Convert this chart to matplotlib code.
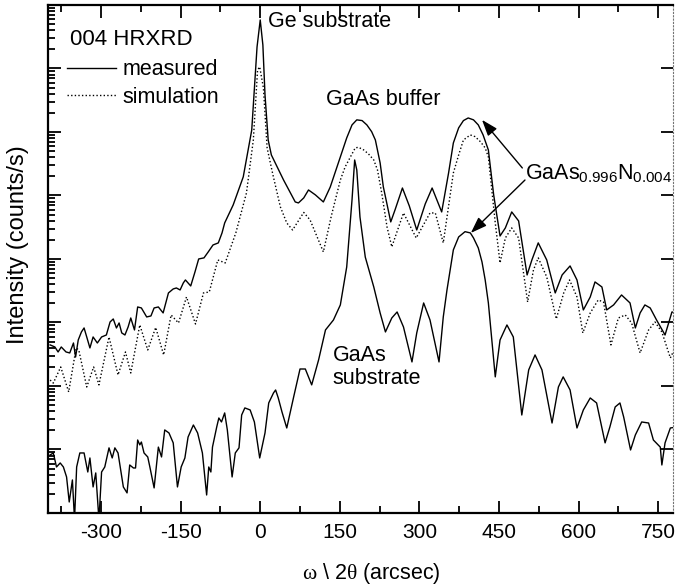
import numpy as np
import matplotlib
matplotlib.use("Agg")
import matplotlib.pyplot as plt
from matplotlib.ticker import LogLocator, MultipleLocator, NullFormatter

plt.rcParams['font.family'] = ['Liberation Sans', 'DejaVu Sans']
plt.rcParams['mathtext.fontset'] = 'custom'
plt.rcParams['mathtext.rm'] = 'Liberation Serif'
plt.rcParams['mathtext.default'] = 'regular'
plt.rcParams['axes.unicode_minus'] = False

# --- measured curve on Ge substrate (arcsec, counts/s) ---
meas_x = [-396, -387, -381, -375, -366, -359, -352, -348, -343, -337, -332,
          -327, -321, -315, -307, -299, -290, -283, -277, -271, -266, -261,
          -255, -249, -244, -237, -231, -224, -214, -206, -200, -192, -183,
          -173, -164, -158, -151, -145, -141, -131, -123, -116, -106, -98,
          -89, -79, -72, -67, -51, -32, -16, -6, 0, 5, 9, 15, 21, 44, 66, 72,
          82, 91, 104, 119, 132, 151, 163, 173, 182, 192, 201, 210, 217, 226,
          232, 246, 254, 268,
          281, 295, 311, 324, 342, 355, 364, 374, 383, 392, 402, 411, 420, 430,
          440, 452, 462,
          474, 487, 503, 512, 524, 540, 556, 569, 584, 597, 609, 622, 631,
          644, 653, 666, 681, 697, 707, 716, 725, 735, 747, 763, 776, 786]
meas_y = [443, 411, 343, 411, 343, 331, 475, 286, 530, 709, 819,
          591, 397, 591, 475, 591, 635, 1018, 1135, 819, 982, 684,
          635, 849, 1177, 762, 1754, 1692, 1221, 1266, 1692, 1754, 1412,
          2915, 3371, 3493, 3250, 4188, 4670, 3757, 6240, 1.0e4, 1.04e4, 1.29e4,
          1.66e4, 1.79e4, 2.57e4, 3.69e4, 7.08e4, 1.96e5, 1.07e6, 2.18e7, 5.8e7,
          2.34e7, 3.83e6, 7.48e5, 4.34e5, 1.75e5, 7.9e4, 7.62e4,
          9.14e4, 1.22e5, 1.02e5, 7.9e4, 1.36e5, 4.04e5, 8.05e5, 1.29e6, 1.55e6,
          1.51e6, 1.29e6, 1.01e6, 7.48e5, 3.25e5,
          1.37e5, 3.83e4, 5.9e4, 1.31e5,
          6.83e4, 2.86e4, 7.35e4, 1.31e5, 5.5e4, 2.26e5, 6.71e5, 1.16e6, 1.51e6,
          1.66e6, 1.55e6, 1.29e6, 9.0e5, 5.2e5,
          1.02e5, 2.3e4, 3.08e4,
          5.5e4, 3.97e4, 5600, 9640, 1.79e4, 9640, 2915, 5600, 7760, 4670, 1574,
          2520, 4345,
          3623, 1574, 1888, 2710, 2028, 819, 1412, 1888, 1692, 1094, 635, 1463,
          1412]

# --- simulated curve ---
sim_x = [-396, -390, -376, -361, -347, -342, -327, -314, -304, -285, -268,
         -254, -244, -227, -212, -197, -182, -168, -154, -139, -122, -107,
         -96, -80, -66, -46, -26, -13, -5, -1, 6, 13, 24, 38, 50, 61, 82, 94,
         119, 134, 151, 160, 170, 179, 185, 195, 204, 214, 221, 229, 239, 248,
         270, 294, 320, 330,
         345, 364, 374, 383, 396, 405, 415, 424, 430, 443, 452, 462, 474, 487,
         504, 515, 524,
         540, 558, 572, 583, 597, 608, 622, 637, 647, 661, 675, 688, 700, 716,
         732, 744, 757, 773, 786]
sim_y = [124, 111, 199, 80.5, 397, 369, 96.4, 199, 104, 591, 149,
         343, 160, 914, 369, 834, 308, 1312, 982, 2520, 946, 2915,
         3020, 9640, 8650, 2.57e4, 1.09e5, 7.48e5, 9.47e6, 1.06e7, 4.93e6,
         5.6e5, 2.1e5, 6.59e4, 3.69e4, 2.86e4, 5.4e4, 4.11e4,
         1.29e4, 4.75e4, 1.75e5, 2.81e5, 4.04e5, 5.6e5, 5.74e5, 5.21e5, 4.51e5,
         3.62e5, 2.52e5, 1.09e5, 3.19e4, 1.55e4,
         5.3e4, 2.14e4, 5.3e4, 5.3e4,
         1.79e4, 2.26e5, 4.34e5, 7.48e5, 8.97e5, 8.43e5, 7.03e5, 5.6e5, 4.04e5,
         3.69e4, 8650, 2.14e4, 3.08e4, 2.14e4,
         2100, 6710, 1.04e4,
         5210, 1135, 2915, 4670, 2520, 684, 1412, 2260, 2100, 443, 1177, 1312,
         982, 331, 762, 1018, 709, 276, 475]

# --- reference GaAs substrate curve ---
ref_x = [-396, -390, -384, -377, -371, -365, -360, -354, -350, -346, -340,
         -332, -325, -321, -315, -310, -304, -299, -293, -285, -279, -274,
         -268, -258, -251, -246, -239, -235, -231, -227, -224, -219, -212,
         -208, -200, -192, -186, -180, -172, -164, -156, -149, -142, -136,
         -126, -118, -109, -101, -97, -93, -90, -82, -78, -73, -67, -62, -53,
         -47, -40, -35, -29, -19, -11, -1, 9, 16, 25, 29, 34, 41, 50, 63, 75,
         85, 97, 110, 123, 138, 151, 163, 173, 178, 182, 188, 198, 214, 226,
         236, 248, 258, 270, 286, 295, 308, 320, 337, 345, 352, 364, 374, 386,
         396, 402, 411, 418, 424, 430, 443, 452, 465, 477, 493, 506, 518, 531,
         550, 562, 571, 584, 597, 609, 622, 634, 650, 659, 669, 678, 685, 698,
         707, 719, 732, 741, 754, 757, 763, 773, 786]
ref_y = [8.19, 8.81, 5.3, 6.13, 5.3, 3.69, 1.49, 3.31, 0.78, 5.3, 8.81,
         8.81, 4.42, 7.35, 2.57, 4.27, 0.78, 4.42, 5.3, 10.6, 7.35, 10.6,
         8.81, 2.57, 2.07, 5.7, 5.11, 5.11, 14.1, 11.8, 13.1, 8.81, 7.62,
         5.3, 2.48, 10.9, 7.62, 20.3, 18.2, 12.7, 2.57, 5.3, 7.35, 15.7,
         24.3, 18.2, 8.81, 1.92, 5.3, 4.42, 10.9, 22.6, 31.3, 27.1, 37.6, 20.3,
         3.69, 8.81, 10.6, 34.9, 45.1, 41.9, 27.1, 7.35, 18.2, 54, 77.6, 86.5,
         64.7, 39, 21.8, 67.1, 185, 185, 104, 257, 762, 1094, 1888, 7480, 8.5e4,
         3.62e5, 2.52e5, 4.58e4, 1.07e4, 3623, 1412, 709, 1177, 1463, 849, 239,
         684, 2028, 1094, 239, 1221, 3250, 1.39e4, 2.22e4, 2.69e4,
         2.57e4, 2.14e4, 1.49e4, 8970, 4670, 2028, 139, 530, 914, 591, 34.9,
         179, 308, 179, 26.1, 96.4, 139,
         86.5, 21.8, 41.9, 64.7, 54, 12.7, 22.6, 46.7, 54, 32.5, 9.82, 16.9,
         27.1, 26.1, 14.1, 10.9, 5.7, 12.7, 21.8, 22.6]

x_ticks = [-300, -150, 0, 150, 300, 450, 600, 750]


def make_plot():
    fig = plt.figure(figsize=(6.77, 5.88), dpi=100)
    ax = fig.add_axes([0.0709, 0.1276, 0.9232, 0.864])

    ax.plot(meas_x, meas_y, color='black', lw=1.0, label='measured')
    ax.plot(sim_x, sim_y, color='black', lw=1.0, ls=(0, (1, 1.6)),
            label='simulation')
    ax.plot(ref_x, ref_y, color='black', lw=1.0)

    ax.set_yscale('log')
    ax.set_xlim(-400, 778)
    ax.set_ylim(1, 1e8)

    ax.set_xticks(x_ticks)
    ax.xaxis.set_minor_locator(MultipleLocator(75))
    ax.yaxis.set_major_locator(LogLocator(base=10, numticks=20))
    ax.yaxis.set_minor_locator(LogLocator(base=10, subs=np.arange(2, 10),
                                          numticks=20))
    ax.yaxis.set_major_formatter(NullFormatter())
    ax.yaxis.set_minor_formatter(NullFormatter())

    ax.tick_params(which='both', direction='in', top=True, right=True,
                   labelsize=15, width=1.3)
    ax.tick_params(which='major', length=9, pad=7)
    ax.tick_params(which='minor', length=5, right=False)
    ax.tick_params(axis='y', which='major', right=True, length=9)

    for side in ['left', 'bottom', 'top']:
        ax.spines[side].set_linewidth(1.6)
    ax.spines['right'].set_linestyle((0, (1, 2)))
    ax.spines['right'].set_linewidth(0.8)
    ax.spines['right'].set_color('0.45')

    ax.set_ylabel('Intensity (counts/s)', fontsize=17)
    ax.yaxis.set_label_coords(-0.03, 0.528)
    ax.set_xlabel(r'$\mathrm{\omega}$ \ 2$\mathrm{\theta}$ (arcsec)',
                  fontsize=15.5)
    ax.xaxis.set_label_coords(0.517, -0.095)

    ax.text(-358, 2.9e7, '004 HRXRD', fontsize=16, va='center', ha='left')
    ax.legend(loc='upper left', bbox_to_anchor=(0.03, 0.893), frameon=False,
              fontsize=15.5, handlelength=2.3, handletextpad=0.3,
              labelspacing=0.3, borderpad=0, borderaxespad=0)

    ax.text(15, 5.4e7, 'Ge substrate', fontsize=15.5, va='center', ha='left')
    ax.text(124, 3.2e6, 'GaAs buffer', fontsize=15.5, va='center', ha='left')
    ax.text(137, 200, 'GaAs\nsubstrate', fontsize=15.5, va='center',
            ha='left', linespacing=1.15)
    ax.text(499, 1.82e5, r'GaAs$_{0.996}$N$_{0.004}$', fontsize=15.5,
            va='baseline', ha='left')

    arrow = dict(arrowstyle='-|>,head_length=0.7,head_width=0.25',
                 color='black', lw=1.0, shrinkA=0, shrinkB=0,
                 mutation_scale=14)
    ax.annotate('', xy=(418, 1.55e6), xytext=(494, 2.71e5), arrowprops=arrow)
    ax.annotate('', xy=(397, 2.57e4), xytext=(499, 1.75e5), arrowprops=arrow)

    fig.savefig('out.png', dpi=100)


if __name__ == '__main__':
    make_plot()
